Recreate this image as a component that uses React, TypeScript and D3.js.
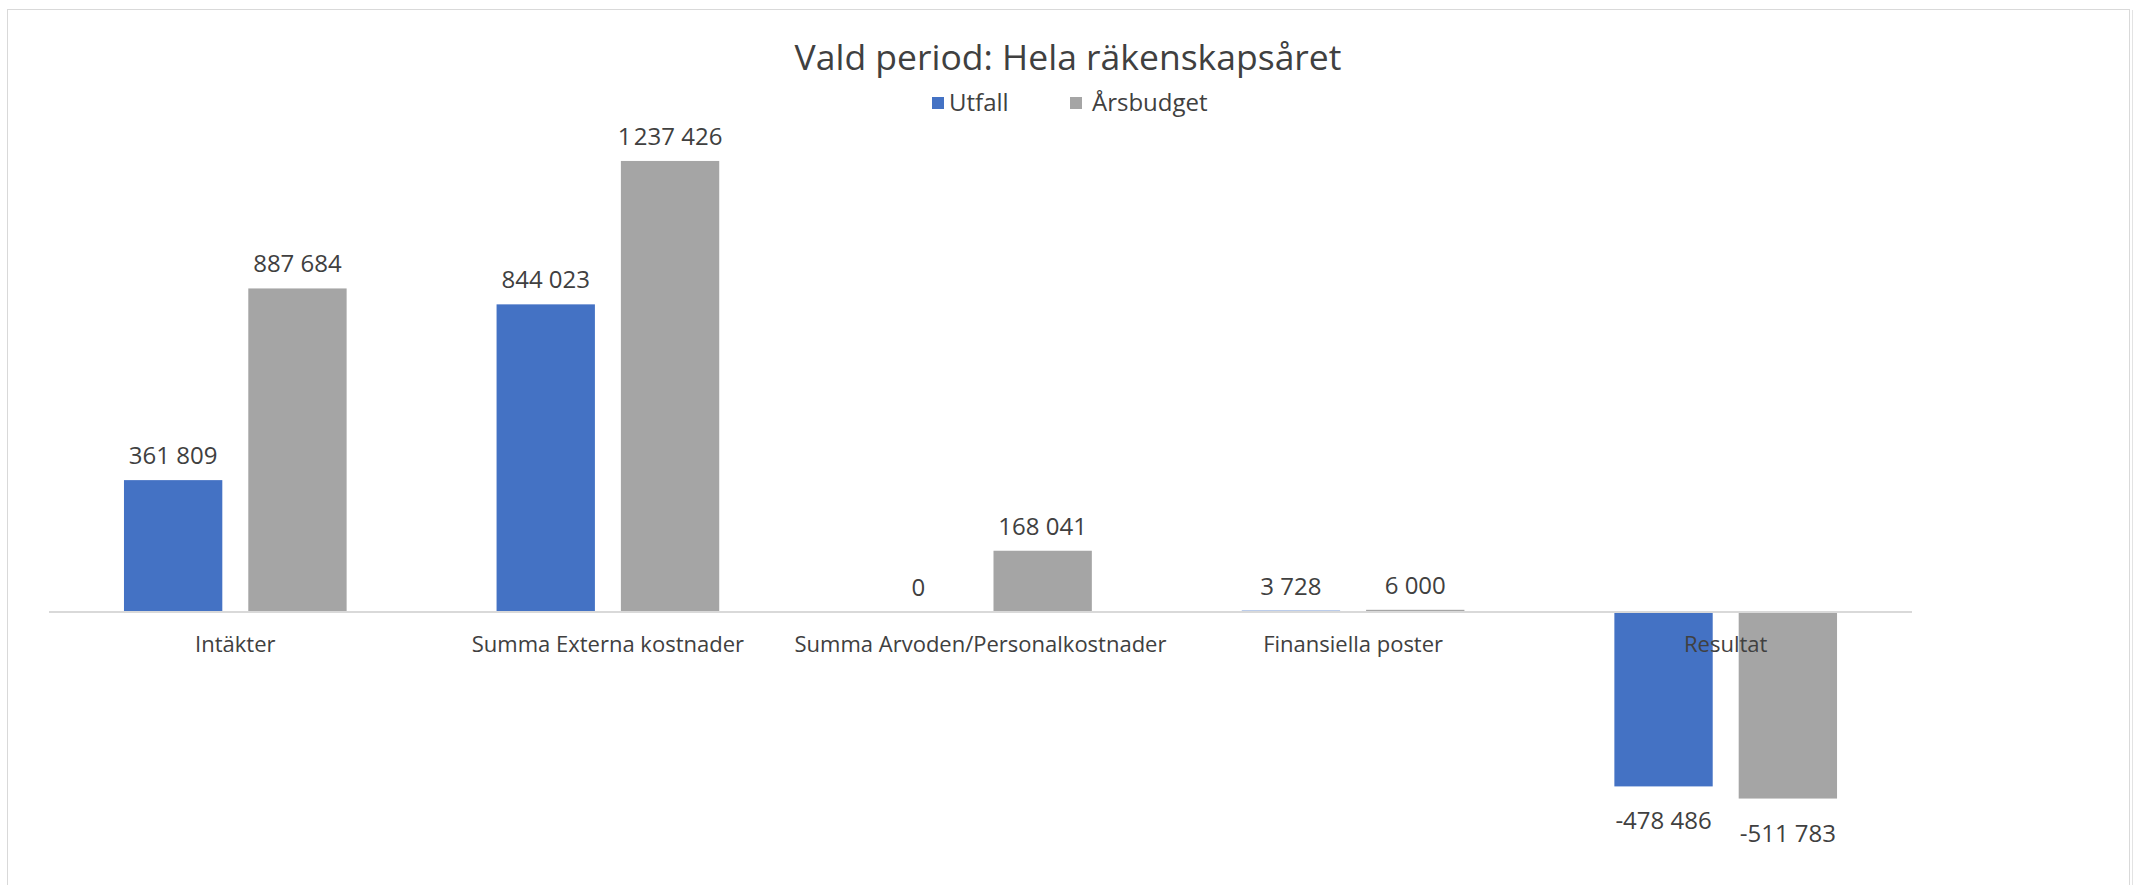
import { useRef, useEffect } from "react";
import * as d3 from "d3";

const categories = [
  "Intäkter",
  "Summa Externa kostnader",
  "Summa Arvoden/Personalkostnader",
  "Finansiella poster",
  "Resultat",
];
const seriesNames = ["Utfall", "Årsbudget"];
const utfall = [361809, 844023, 0, 3728, -478486];
const arsbudget = [887684, 1237426, 168041, 6000, -511783];
const seriesColors = ["#4472C4", "#A5A5A5"];

export default function App() {
  const chartRef = useRef<HTMLDivElement>(null);

  useEffect(() => {
    if (!chartRef.current) return;
    document.body.style.margin = "0";

    // Clear any existing content
    d3.select(chartRef.current).selectAll("*").remove();

    const width = 2141;
    const height = 885;
    const font = "'Open Sans', 'Noto Sans', sans-serif";
    const textColor = "#404040";

    const svg = d3
      .select(chartRef.current)
      .append("svg")
      .attr("width", width)
      .attr("height", height)
      .style("display", "block")
      .attr("font-family", font);

    // Chart frame (runs past the bottom of the picture)
    svg
      .append("rect")
      .attr("x", 7.5)
      .attr("y", 9.5)
      .attr("width", 2122)
      .attr("height", 900)
      .attr("fill", "#fff")
      .attr("stroke", "#d9d9d9");
    svg
      .append("line")
      .attr("x1", 2132.5)
      .attr("x2", 2132.5)
      .attr("y1", 10)
      .attr("y2", height)
      .attr("stroke", "#e3e3e3");

    const locale = d3.formatLocale({
      decimal: ",",
      thousands: " ",
      grouping: [3],
      currency: ["", " kr"],
      minus: "-",
    });
    const baseFmt = locale.format(",d");
    // the millions gap is drawn narrow in the original
    const fmt = (v: number) =>
      Math.abs(v) >= 1e6 ? baseFmt(v).replace(" ", "\u200A") : baseFmt(v);

    // Scales
    const x0 = d3
      .scaleBand()
      .domain(categories)
      .range([49, 1912])
      .paddingInner(0.4024)
      .paddingOuter(0.2012);

    const x1 = d3
      .scaleBand()
      .domain(seriesNames)
      .range([0, x0.bandwidth()])
      .paddingInner(0.209);

    const y = d3
      .scaleLinear()
      .domain([-600000, 1400000])
      .range([830.7, 101.7]);

    const rows = categories.map((c, i) => ({
      category: c,
      values: [
        { name: seriesNames[0], value: utfall[i], color: seriesColors[0] },
        { name: seriesNames[1], value: arsbudget[i], color: seriesColors[1] },
      ],
    }));

    const groups = svg
      .selectAll("g.group")
      .data(rows)
      .enter()
      .append("g")
      .attr("class", "group")
      .attr("transform", (d) => `translate(${x0(d.category)},0)`);

    groups
      .selectAll("rect")
      .data((d) => d.values)
      .enter()
      .append("rect")
      .attr("x", (d) => x1(d.name)!)
      .attr("width", x1.bandwidth())
      .attr("y", (d) => y(Math.max(0, d.value)))
      .attr("height", (d) => Math.abs(y(d.value) - y(0)))
      .attr("fill", (d) => d.color);

    // Zero axis line, over the bars
    svg
      .append("line")
      .attr("x1", x0.range()[0])
      .attr("x2", x0.range()[1])
      .attr("y1", y(0))
      .attr("y2", y(0))
      .attr("stroke", "#d9d9d9")
      .attr("stroke-width", 2);

    // Data labels
    groups
      .selectAll("text.value")
      .data((d) => d.values)
      .enter()
      .append("text")
      .attr("class", "value")
      .attr("x", (d) => x1(d.name)! + x1.bandwidth() / 2)
      .attr("y", (d) => (d.value >= 0 ? y(d.value) - 16 : y(d.value) + 43))
      .attr("text-anchor", "middle")
      .attr("font-size", "24px")
      .attr("fill", textColor)
      .text((d) => fmt(d.value));

    // Category labels (drawn over bars)
    svg
      .selectAll("text.cat")
      .data(categories)
      .enter()
      .append("text")
      .attr("class", "cat")
      .attr("x", (d) => x0(d)! + x0.bandwidth() / 2)
      .attr("y", 652)
      .attr("text-anchor", "middle")
      .attr("font-size", "22px")
      .attr("fill", textColor)
      .text((d) => d);

    // Title
    svg
      .append("text")
      .attr("x", 1068)
      .attr("y", 70)
      .attr("text-anchor", "middle")
      .attr("font-size", "35.5px")
      .attr("fill", textColor)
      .text("Vald period: Hela räkenskapsåret");

    // Legend
    const legendX = [932, 1070];
    const legend = svg
      .selectAll("g.legend")
      .data(seriesNames)
      .enter()
      .append("g")
      .attr("class", "legend")
      .attr("transform", (_d, i) => `translate(${legendX[i]},97)`);

    legend
      .append("rect")
      .attr("width", 12)
      .attr("height", 12)
      .attr("fill", (_d, i) => seriesColors[i]);

    legend
      .append("text")
      .attr("x", (_d, i) => (i === 0 ? 17 : 22))
      .attr("y", 14)
      .attr("font-size", "24px")
      .attr("fill", textColor)
      .text((d) => d);
  }, []);

  return (
    <div>
      <div ref={chartRef}></div>
    </div>
  );
}
